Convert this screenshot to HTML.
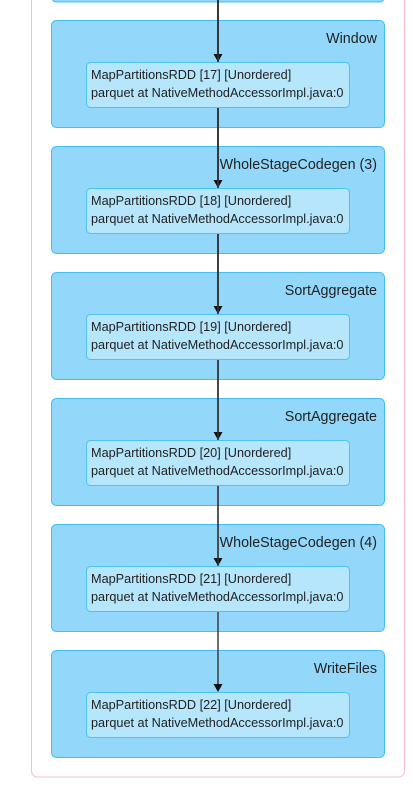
<!DOCTYPE html>
<html><head><style>
html,body{margin:0;padding:0;background:#fff;width:413px;height:790px;overflow:hidden}
text{font-family:"Liberation Sans",sans-serif;fill:#222}
</style></head><body>
<svg width="413" height="790" viewBox="0 0 413 790" xmlns="http://www.w3.org/2000/svg">
<rect x="31.5" y="-20" width="373" height="797" rx="6" fill="#fff" stroke="#f6bfcb" stroke-width="1"/>
<rect x="51.5" y="-40" width="333" height="42" rx="5" fill="#93d8fa" stroke="#45bff3"/>
<script>
var s=document.querySelector('svg'),ns='http://www.w3.org/2000/svg';
var data=[["Window",17],["WholeStageCodegen (3)",18],["SortAggregate",19],["SortAggregate",20],["WholeStageCodegen (4)",21],["WriteFiles",22]];
function el(t,a,txt){var e=document.createElementNS(ns,t);for(var k in a)e.setAttribute(k,a[k]);if(txt)e.textContent=txt;s.appendChild(e);return e;}
data.forEach(function(d,i){var y=20+126*i;
el('rect',{x:51.5,y:y+0.5,width:333,height:107,rx:5,fill:'#93d8fa',stroke:'#45bff3'});
el('text',{x:377,y:y+23,'text-anchor':'end','font-size':'14.3'},d[0]);
});
for(var i=0;i<6;i++){var top=i==0?0:20+126*(i-1)+88;var tip=20+126*i+42;
el('line',{x1:218,y1:top,x2:218,y2:tip-7,stroke:'#333',"stroke-width":1.4});
el('path',{d:'M213.5 '+(tip-8)+' L222.5 '+(tip-8)+' L218 '+tip+' Z',fill:'#111'});}
data.forEach(function(d,i){var y=20+126*i;
el('rect',{x:86.5,y:y+42.5,width:263,height:45,rx:4,fill:'#b5e6fc',stroke:'#4cc3f5'});
el('text',{x:91,y:y+59,'font-size':'12.7'},'MapPartitionsRDD ['+d[1]+'] [Unordered]');
el('text',{x:91,y:y+77,'font-size':'12.7'},'parquet at NativeMethodAccessorImpl.java:0');
});
</script>
</svg>
</body></html>
